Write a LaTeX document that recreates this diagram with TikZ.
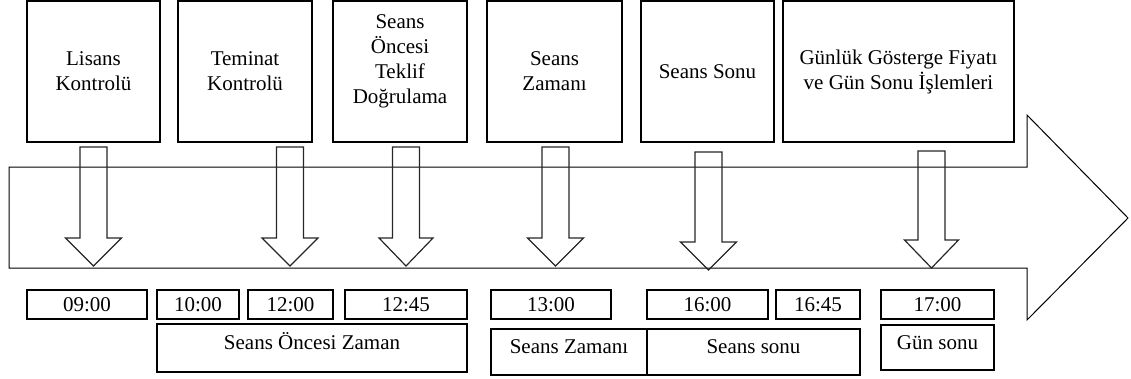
\documentclass[tikz,border=0pt]{standalone}
\usepackage{fontspec}
\setmainfont{Liberation Serif}
\usetikzlibrary{calc}
\begin{document}
\begin{tikzpicture}[x=1pt,y=-1pt,
  every node/.style={font=\fontsize{21}{25}\selectfont, inner sep=0pt, outer sep=0pt},
  stagebox/.style={draw, line width=1.2pt, align=center},
  timebox/.style={draw, line width=1.1pt, minimum height=29pt},
  periodbox/.style={draw, line width=1.1pt},
  timeline/.style={draw, line width=1pt, line join=miter},
  blockarrow/.style={draw=black!85, line width=1.2pt, line join=miter}
]
\useasboundingbox (0,0) rectangle (1131,378);

% the time line drawn as one wide arrow
\draw[timeline] (9,167) -- (1027,167) -- (1027,115) -- (1128,218)
  -- (1027,320) -- (1027,268) -- (9,268) -- cycle;

% stages of the trading day
\node[stagebox, minimum width=133pt, minimum height=141pt] (b1) at (93.5,71.5) {Lisans\\Kontrolü};
\node[stagebox, minimum width=134pt, minimum height=141pt] (b2) at (245,71.5) {Teminat\\Kontrolü};
\node[stagebox, minimum width=134pt, minimum height=141pt] (b3) at (400,71.5) {};
\node[align=center] (t3) at ($(b3.center)+(0,-10)$) {Seans\\Öncesi\\Teklif\\Doğrulama};
\node[stagebox, minimum width=135pt, minimum height=141pt] (b4) at (554.5,71.5) {Seans\\Zamanı};
\node[stagebox, minimum width=133pt, minimum height=141pt] (b5) at (707.5,71.5) {Seans Sonu};
\node[stagebox, minimum width=231pt, minimum height=141pt] (b6) at (898.5,71.5) {Günlük Gösterge Fiyatı\\ve Gün Sonu İşlemleri};

% hollow arrows pointing down onto the time line
\newcommand\dnarrow[4]{% centre x, top, tip, half width of the head
  \draw[blockarrow] (#1-13.5,#2) -- (#1+13.5,#2) -- (#1+13.5,#3-28)
    -- (#1+#4,#3-28) -- (#1,#3) -- (#1-#4,#3-28) -- (#1-13.5,#3-28) -- cycle;}
\dnarrow{93.5}{147}{266}{28}
\dnarrow{290}{147}{266}{28}
\dnarrow{406}{147}{266}{27}
\dnarrow{555.5}{147}{266}{28}
\dnarrow{708.5}{152}{270}{28}
\dnarrow{931.5}{151}{268}{27}

% clock times
\node[timebox, minimum width=120pt] (tm1) at (87,304.5) {09:00};
\node[timebox, minimum width=82pt] (tm2) at (198,304.5) {10:00};
\node[timebox, minimum width=85pt] (tm3) at (290.5,304.5) {12:00};
\node[timebox, minimum width=122pt] (tm4) at (406,304.5) {12:45};
\node[timebox, minimum width=120pt] (tm5) at (551,304.5) {13:00};
\node[timebox, minimum width=121pt] (tm6) at (707.5,304.5) {16:00};
\node[timebox, minimum width=84pt] (tm7) at (818,304.5) {16:45};
\node[timebox, minimum width=113pt] (tm8) at (937.5,304.5) {17:00};

% periods of the day
\node[periodbox, minimum width=310pt, minimum height=48pt, text depth=14pt] (p1) at (312,348) {Seans Öncesi Zaman};
\node[periodbox, minimum width=156pt, minimum height=46pt, text depth=10pt] (p2) at (569,352) {Seans Zamanı};
\node[periodbox, minimum width=213pt, minimum height=46pt, text depth=10pt] (p3) at (753.5,352) {Seans sonu};
\node[periodbox, minimum width=113pt, minimum height=45pt, text depth=10pt] (p4) at (937.5,347.5) {Gün sonu};
\end{tikzpicture}
\end{document}
